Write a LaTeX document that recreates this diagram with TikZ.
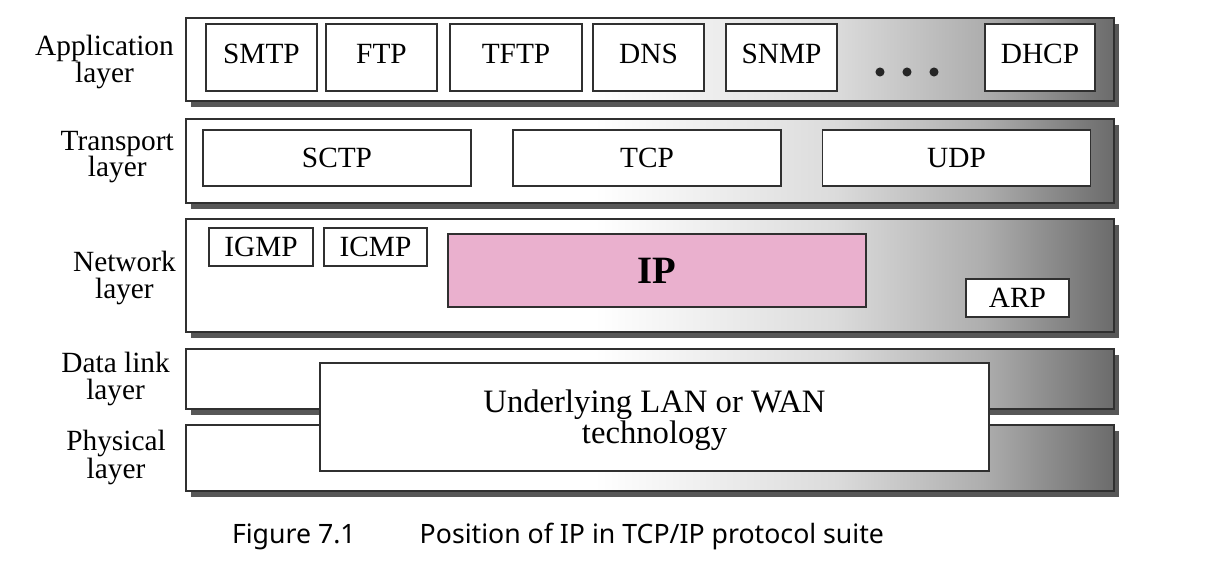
\documentclass[tikz,border=0pt]{standalone}
\usepackage{fontspec}
\setmainfont{Liberation Serif}
\newfontfamily\captionfont{Noto Sans}
\usepackage{tikz}
\usetikzlibrary{shadows}
\definecolor{ipfill}{HTML}{EAB0CE}
\definecolor{edgegray}{HTML}{303030}
\definecolor{shadowgray}{HTML}{575757}
\pgfdeclarehorizontalshading{layershade}{100bp}{color(0bp)=(white); color(25bp)=(white); color(47bp)=(white); color(60bp)=(black!14); color(68bp)=(black!32); color(75bp)=(black!58); color(100bp)=(black!58)}
\tikzset{
  layerbox/.style={draw=edgegray, line width=1pt, shading=layershade, inner sep=0pt, minimum width=696pt, drop shadow={shadow xshift=4pt, shadow yshift=-4.5pt, fill=shadowgray, opacity=1}},
  protobox/.style={draw=edgegray, line width=0.8pt, fill=white, inner sep=0pt, font=\fontsize{22}{24}\selectfont},
  appbox/.style={protobox, minimum height=50.25pt, text height=15pt, text depth=6pt},
  transbox/.style={protobox, minimum width=201pt, minimum height=42pt},
  smallbox/.style={protobox, minimum height=28.5pt},
  layerlabel/.style={anchor=east, align=center, inner sep=0pt, font=\fontsize{22}{20}\selectfont}
}

\begin{document}
\begin{tikzpicture}[x=0.75pt, y=-0.75pt]
  \useasboundingbox[fill=white] (0,0) rectangle (1208,584);

  % layers
  \node[layerbox, minimum height=62.25pt] (app) at (650,59.5) {};
  \node[layerbox, minimum height=63pt] (trans) at (650,161) {};
  \node[layerbox, minimum height=84.75pt] (net) at (650,275.5) {};
  \node[layerbox, minimum height=45pt] (link) at (650,379) {};
  \node[layerbox, minimum height=49.5pt] (phys) at (650,458) {};

  \node[layerlabel] (applbl) at (174,62) {Application\\layer};
  \node[layerlabel] (translbl) at (174,157) {Transport\\layer};
  \node[layerlabel] (netlbl) at (176,278) {Network\\layer};
  \node[layerlabel] (linklbl) at (170,379) {Data link\\layer};
  \node[layerlabel] (physlbl) at (166,457) {Physical\\layer};

  % application protocols
  \node[appbox, minimum width=83.25pt] (smtp) at (261.5,57.5) {SMTP};
  \node[appbox, minimum width=83.25pt] (ftp) at (381.5,57.5) {FTP};
  \node[appbox, minimum width=99pt] (tftp) at (516,57.5) {TFTP};
  \node[appbox, minimum width=83.25pt] (dns) at (648.5,57.5) {DNS};
  \node[appbox, minimum width=83.25pt] (snmp) at (781.5,57.5) {SNMP};
  \node[appbox, minimum width=82.5pt] (dhcp) at (1040,57.5) {DHCP};
  \foreach \x in {880,907,934}
    \fill[black!85] (\x,72) circle (3.4pt);

  % transport protocols
  \node[transbox] (sctp) at (337,158) {SCTP};
  \node[transbox] (tcp) at (647,158) {TCP};
  \node[transbox] (udp) at (956.5,158) {UDP};

  % network protocols
  \node[smallbox, minimum width=78pt] (igmp) at (261,247) {IGMP};
  \node[smallbox, minimum width=77.25pt] (icmp) at (375.5,247) {ICMP};
  \node[protobox, fill=ipfill, minimum width=313.5pt, minimum height=54.75pt, font=\bfseries\fontsize{29}{30}\selectfont] (ip) at (657,270.5) {IP};
  \node[smallbox, minimum width=77.25pt] (arp) at (1017.5,298) {ARP};

  % lower layers
  \node[protobox, minimum width=501.75pt, minimum height=81pt, align=center, text depth=0pt, font=\fontsize{24.5}{22}\selectfont] (lanwan) at (654.5,417) {Underlying LAN or WAN\\technology};

  \node[font=\captionfont\fontsize{20}{24}\selectfont, inner sep=0pt] (caption) at (558,537) {Figure 7.1\hspace{48pt}Position of IP in TCP/IP protocol suite};
\end{tikzpicture}
\end{document}
